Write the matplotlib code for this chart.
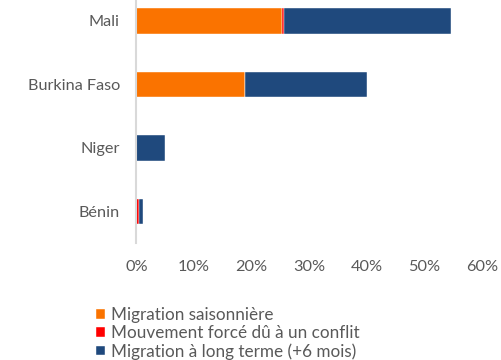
import matplotlib
matplotlib.use("Agg")
import matplotlib.pyplot as plt
from matplotlib.ticker import FuncFormatter
import numpy as np

# Shares of households by migration type, per country
countries = ["Mali", "Burkina Faso", "Niger", "Bénin"]
saisonniere = [25.3, 18.9, 0.0, 0.0]
conflit = [0.4, 0.0, 0.0, 0.45]
long_terme = [29.0, 21.1, 5.0, 0.75]
series_labels = ["Migration saisonnière",
                 "Mouvement forcé dû à un conflit",
                 "Migration à long terme (+6 mois)"]
series_colors = ["#FA7300", "#FF0000", "#1F497D"]
x_ticks = [0, 10, 20, 30, 40, 50, 60]

plt.rcParams["font.family"] = ["Lato", "DejaVu Sans"]
text_color = "#595959"

W, H = 502, 360
fig = plt.figure(figsize=(W / 100, H / 100), dpi=100)
# axes box in pixel coordinates (top edge sits above the canvas)
left, right, top, bottom = 136.5, 482.0, -10.75, 243.0
ax = fig.add_axes([left / W, (H - bottom) / H, (right - left) / W, (bottom - top) / H])

y = np.arange(len(countries))
start = np.zeros(len(countries))
for vals, lab, col in zip([saisonniere, conflit, long_terme], series_labels, series_colors):
    vals = np.array(vals)
    ax.barh(y, vals, left=start, height=0.4, color=col, label=lab,
            edgecolor="white", linewidth=0.3)
    start = start + vals

ax.set_ylim(len(countries) - 0.5, -0.5)
ax.set_yticks(y)
ax.set_yticklabels(countries)
ax.set_xlim(0, 60)
ax.set_xticks(x_ticks)
ax.xaxis.set_major_formatter(FuncFormatter(lambda v, p: f"{v:.0f}%"))

for s in ["top", "right", "bottom"]:
    ax.spines[s].set_visible(False)
ax.spines["left"].set_color("#D9D9D9")
ax.spines["left"].set_linewidth(1.5)
ax.tick_params(axis="both", length=0, labelsize=11.7, colors=text_color)
ax.tick_params(axis="y", pad=12)
ax.tick_params(axis="x", pad=12)

handles, labels = ax.get_legend_handles_labels()
fig.legend(handles, labels, loc="upper left",
           bbox_to_anchor=(96 / W, (H - 307) / H), frameon=False,
           fontsize=12.3, labelcolor=text_color, handlelength=0.5,
           handleheight=0.5, handletextpad=0.35, labelspacing=0.12,
           borderpad=0, borderaxespad=0)

fig.savefig("out.png", dpi=100)
